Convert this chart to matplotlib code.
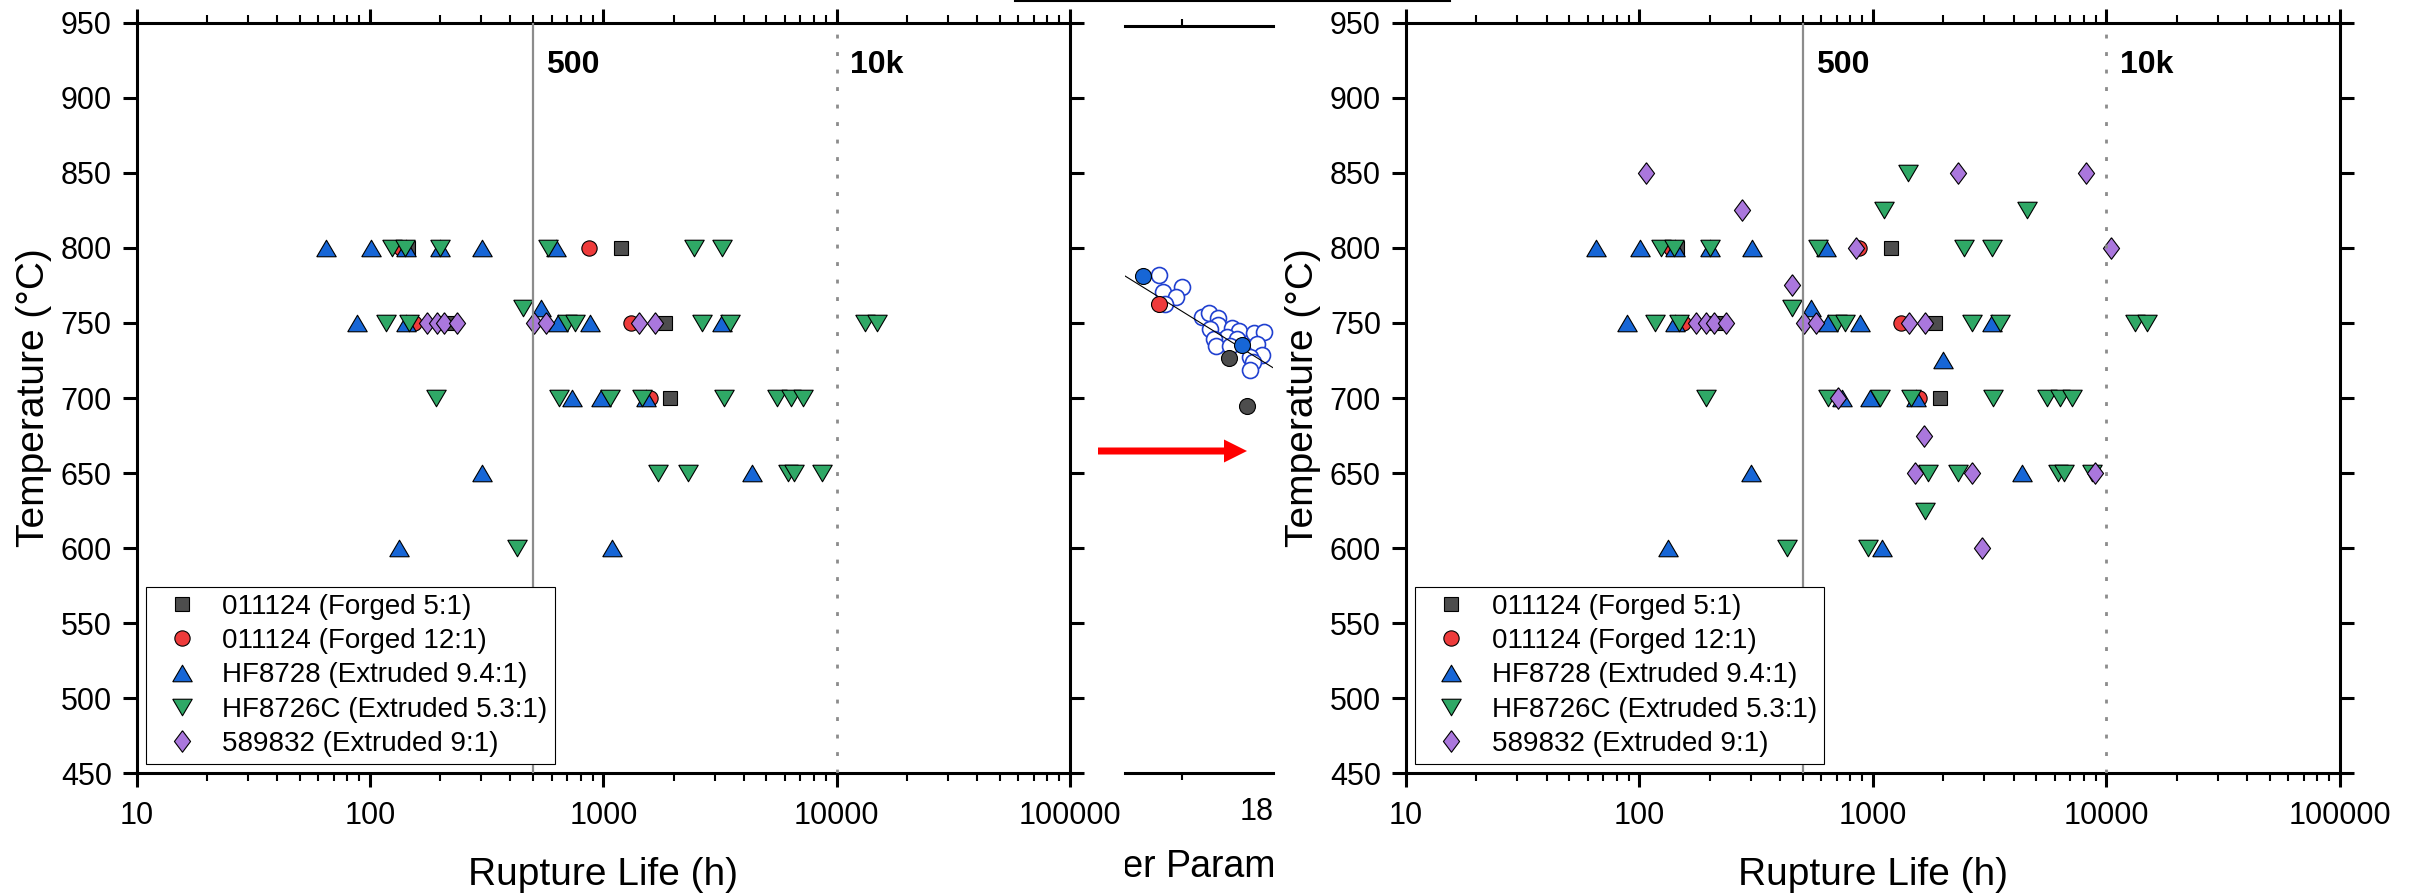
import numpy as np
import matplotlib
matplotlib.use("Agg")
import matplotlib.pyplot as plt
from matplotlib.patches import FancyArrow
from matplotlib.transforms import Bbox
from matplotlib.ticker import LogLocator, NullFormatter, NullLocator

plt.rcParams['font.family'] = ['Liberation Sans', 'DejaVu Sans']

# %% Datos: vida a rotura (h) y temperatura (°C)
labels = ['011124 (Forged 5:1)', '011124 (Forged 12:1)', 'HF8728 (Extruded 9.4:1)',
          'HF8726C (Extruded 5.3:1)', '589832 (Extruded 9:1)']

sq_life = [145, 1190, 215, 1840, 1930]
sq_temp = [800, 800, 750, 750, 700]

ci_life = [136, 870, 154, 1320, 1580]
ci_temp = [800, 800, 750, 750, 700]

up_life = [65, 101, 142, 200, 303, 628, 543, 88, 142, 642, 880, 3220,
           735, 975, 1530, 301, 4330, 133, 1088]
up_temp = [800, 800, 800, 800, 800, 800, 760, 750, 750, 750, 750, 750,
           700, 700, 700, 650, 650, 600, 600]

dn_life = [124, 141, 200, 581, 2450, 3240, 451,
           117, 147, 700, 757, 2650, 3500, 13300, 14900,
           192, 644, 1067, 1460, 3280, 5550, 6350, 7150,
           1716, 2305, 6200, 6600, 8630, 428]
dn_temp = [800, 800, 800, 800, 800, 800, 760,
           750, 750, 750, 750, 750, 750, 750, 750,
           700, 700, 700, 700, 700, 700, 700, 700,
           650, 650, 650, 650, 650, 600]

di_life = [175, 193, 208, 235, 505, 568, 1420, 1673]
di_temp = [750, 750, 750, 750, 750, 750, 750, 750]

# puntos que solo aparecen en el panel derecho
up_extra_life = [2000]
up_extra_temp = [725]
dn_extra_life = [1406, 1112, 4570, 1676, 953]
dn_extra_temp = [850, 825, 825, 625, 600]
di_extra_life = [107, 2313, 8170, 276, 848, 10470, 452, 706, 1652, 1514, 2642, 8910, 2924]
di_extra_temp = [850, 850, 850, 825, 800, 800, 775, 700, 675, 650, 650, 650, 600]

x_ticks = [10, 100, 1000, 10000, 100000]
x_ticklabels = ['10', '100', '1000', '10000', '100000']
y_ticks = [450, 500, 550, 600, 650, 700, 750, 800, 850, 900, 950]

# fragmento central (parametro de Larson-Miller)
lmp_open = [17.352, 17.374, 17.500, 17.463, 17.390, 17.633, 17.682, 17.744, 17.744, 17.689,
            17.832, 17.883, 17.799, 17.715, 17.728, 17.983, 18.047, 17.999, 18.032, 17.954,
            17.972, 17.954, 17.866, 17.821]
temp_open = [783.3, 772.2, 775.1, 768.8, 763.9, 755.0, 758.1, 754.4, 749.9, 747.0,
             747.7, 746.0, 742.0, 740.9, 735.8, 744.3, 745.0, 737.2, 729.8, 728.7,
             725.3, 719.7, 740.9, 735.8]
lmp_blue = [17.246, 17.903]
temp_blue = [782.9, 736.3]
lmp_red = [17.352]
temp_red = [763.9]
lmp_gray = [17.815, 17.932]
temp_gray = [727.6, 695.9]
fit_slope, fit_intercept = -62.5, 1853.0

# %% Estilos
c_sq, c_ci, c_up, c_dn, c_di = '#4D4D4D', '#EE3B3B', '#1766D6', '#2FA866', '#AA77DD'
m_up = [(-1, -0.85), (1, -0.85), (0, 0.85), (-1, -0.85)]
m_dn = [(-1, 0.85), (1, 0.85), (0, -0.85), (-1, 0.85)]
m_di = [(0, 1), (0.75, 0), (0, -1), (-0.75, 0), (0, 1)]
styles = [('s', c_sq, 9.8), ('o', c_ci, 11), (m_up, c_up, 14), (m_dn, c_dn, 14), (m_di, c_di, 15.5)]


def panel(ax, series):
    for (mk, col, ms), (life, temp), lab in zip(styles, series, labels):
        ax.plot(life, temp, linestyle='none', marker=mk, ms=ms, mfc=col, mec='black',
                mew=0.8, label=lab, zorder=3)
    ax.axvline(500, color='#8C8C8C', lw=1.6, zorder=4)
    ax.axvline(10000, color='#8C8C8C', lw=2, ls=(0, (1.4, 4.9)), zorder=4)
    ax.text(568, 932, '500', fontsize=23, fontweight='bold', va='top', ha='left')
    ax.text(11420, 932, '10k', fontsize=23, fontweight='bold', va='top', ha='left')
    ax.set_xscale('log')
    ax.set_xlim(10, 100000)
    ax.set_ylim(450, 950)
    ax.set_xticks(x_ticks)
    ax.set_xticklabels(x_ticklabels)
    ax.xaxis.set_minor_locator(LogLocator(base=10, subs=range(2, 10)))
    ax.xaxis.set_minor_formatter(NullFormatter())
    ax.set_yticks(y_ticks)
    ax.yaxis.set_minor_locator(NullLocator())
    ax.tick_params(which='major', direction='out', length=10, width=2.2, labelsize=22,
                   top=True, right=True)
    ax.tick_params(axis='x', which='major', pad=10)
    ax.tick_params(axis='y', which='major', pad=8)
    ax.tick_params(axis='x', which='minor', direction='out', length=5.5, width=1.5, top=True)
    for s in ax.spines.values():
        s.set_linewidth(2.2)
    ax.set_xlabel('Rupture Life (h)', fontsize=28, labelpad=19)
    ax.set_ylabel('Temperature (°C)', fontsize=28, labelpad=6)
    leg = ax.legend(loc='lower left', bbox_to_anchor=(0.0099, 0.0124), borderaxespad=0,
                    fontsize=20, fancybox=False, edgecolor='black', framealpha=1,
                    borderpad=0.25, labelspacing=0.3, handlelength=2.1, handletextpad=0.4,
                    numpoints=1)
    leg.get_frame().set_linewidth(0.8)


fig = plt.figure(figsize=(24.15, 8.93), dpi=100)
ax1 = fig.add_axes([0.05665, 0.13404, 0.38634, 0.84054])
ax2 = fig.add_axes([0.58219, 0.13404, 0.38675, 0.84054])
ax_mid = fig.add_axes([0.46584, 0.13404, 0.06128, 0.83684])

panel(ax1, [(sq_life, sq_temp), (ci_life, ci_temp), (up_life, up_temp),
            (dn_life, dn_temp), (di_life, di_temp)])
panel(ax2, [(sq_life, sq_temp), (ci_life, ci_temp),
            (up_life + up_extra_life, up_temp + up_extra_temp),
            (dn_life + dn_extra_life, dn_temp + dn_extra_temp),
            (di_life + di_extra_life, di_temp + di_extra_temp)])

# %% Fragmento central
ax_mid.plot(lmp_open, temp_open, linestyle='none', marker='o', ms=11.5, mfc='white',
            mec='#2040D0', mew=1.2, zorder=2)
fit_x = np.array([17.0, 18.3])
ax_mid.plot(fit_x, fit_slope * fit_x + fit_intercept, color='black', lw=0.8, zorder=3)
ax_mid.plot(lmp_blue, temp_blue, linestyle='none', marker='o', ms=11.5, mfc=c_up, mec='black', mew=0.8, zorder=4)
ax_mid.plot(lmp_red, temp_red, linestyle='none', marker='o', ms=11.5, mfc=c_ci, mec='black', mew=0.8, zorder=4)
ax_mid.plot(lmp_gray, temp_gray, linestyle='none', marker='o', ms=11.5, mfc=c_sq, mec='black', mew=0.8, zorder=4)
ax_mid.set_xlim(17.124, 18.106)
ax_mid.set_ylim(450, 950)
ax_mid.spines['left'].set_visible(False)
ax_mid.spines['right'].set_visible(False)
for s in ('top', 'bottom'):
    ax_mid.spines[s].set_linewidth(2.2)
ax_mid.set_yticks([])
ax_mid.set_xticks([18])
ax_mid.set_xticklabels(['18'])
ax_mid.set_xticks([17.5], minor=True)
ax_mid.tick_params(axis='x', which='major', length=0, labelsize=22, pad=17)
ax_mid.tick_params(axis='x', which='minor', direction='out', length=5, width=1.5, top=True)
ax_mid.patch.set_alpha(0)

# %% Capa superpuesta en pixeles (flecha, linea superior, etiqueta recortada)
ov = fig.add_axes([0, 0, 1, 1])
ov.set_xlim(0, 2415)
ov.set_ylim(893, 0)
ov.axis('off')
ov.add_patch(FancyArrow(1098, 451, 149, 0, width=7, head_width=23, head_length=23,
                        length_includes_head=True, color='#FF0000', lw=0))
ov.plot([1015, 1450], [1, 1], color='black', lw=1.5)
clip = Bbox.from_extents(1125, 0, 1273, 60)
for txt, x, ha in (('Parameter', 1166, 'left'), ('Larson-Miller', 1156, 'right')):
    t = ov.text(x, 877, txt, fontsize=27, ha=ha, va='baseline', clip_on=True)
    t.set_clip_path(None)
    t.set_clip_box(clip)

fig.savefig('out.png', dpi=100)
